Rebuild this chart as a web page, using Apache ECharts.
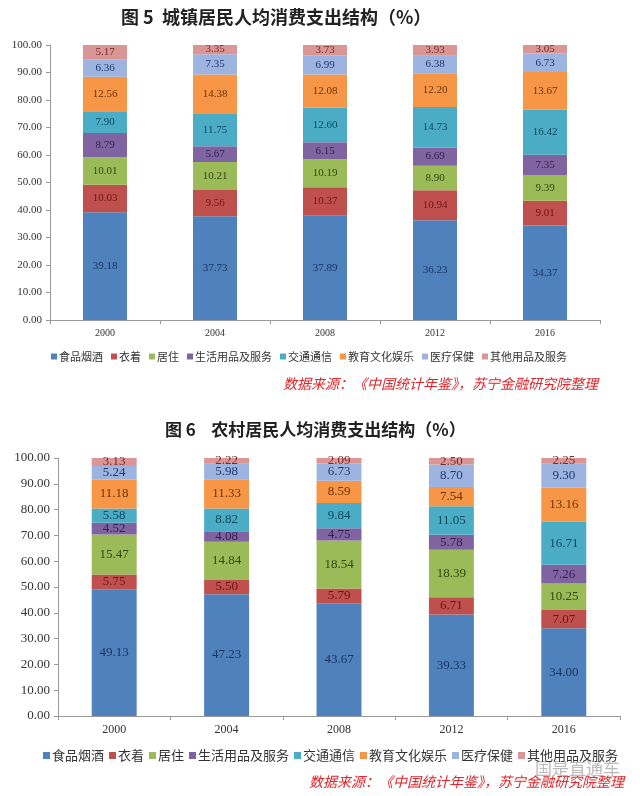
<!DOCTYPE html>
<html><head><meta charset="utf-8">
<script src="https://cdn.jsdelivr.net/npm/echarts@6/dist/echarts.min.js"></script>
<style>html,body{margin:0;padding:0;background:#fff}#c{width:640px;height:796px}</style>
</head><body><div id="c"></div>
<script>
const years = ['2000','2004','2008','2012','2016'];
const seriesNames = ['食品烟酒','衣着','居住','生活用品及服务','交通通信','教育文化娱乐','医疗保健','其他用品及服务'];
// Urban (图5)
const urbanFood = [39.18,37.73,37.89,36.23,34.37];
const urbanClothing = [10.03,9.56,10.37,10.94,9.01];
const urbanHousing = [10.01,10.21,10.19,8.90,9.39];
const urbanHousehold = [8.79,5.67,6.15,6.69,7.35];
const urbanTransport = [7.90,11.75,12.60,14.73,16.42];
const urbanEducation = [12.56,14.38,12.08,12.20,13.67];
const urbanHealth = [6.36,7.35,6.99,6.38,6.73];
const urbanOther = [5.17,3.35,3.73,3.93,3.05];
// Rural (图6)
const ruralFood = [49.13,47.23,43.67,39.33,34.00];
const ruralClothing = [5.75,5.50,5.79,6.71,7.07];
const ruralHousing = [15.47,14.84,18.54,18.39,10.25];
const ruralHousehold = [4.52,4.08,4.75,5.78,7.26];
const ruralTransport = [5.58,8.82,9.84,11.05,16.71];
const ruralEducation = [11.18,11.33,8.59,7.54,13.16];
const ruralHealth = [5.24,5.98,6.73,8.70,9.30];
const ruralOther = [3.13,2.22,2.09,2.50,2.25];
const yTicks = [0,10,20,30,40,50,60,70,80,90,100];

const urban = [urbanFood,urbanClothing,urbanHousing,urbanHousehold,urbanTransport,urbanEducation,urbanHealth,urbanOther];
const rural = [ruralFood,ruralClothing,ruralHousing,ruralHousehold,ruralTransport,ruralEducation,ruralHealth,ruralOther];
const colors = ['#4F81BD','#C0504D','#9BBB59','#8064A2','#4BACC6','#F79646','#9DB4E0','#DA9694'];
const labelColors = ['#1c3461','#6b1614','#34460d','#33224f','#10485e','#6e3208','#1f3870','#7a2a2a'];
const serif = '"Liberation Serif", "DejaVu Serif", serif';
const cjk = '"Noto Sans CJK SC", sans-serif';

function mkSeries(data, idx, fs) {
  return data.map((d,i)=>({
    name: seriesNames[i], type:'bar', stack:'s'+idx, xAxisIndex:idx, yAxisIndex:idx,
    barWidth:'40%', data:d,
    itemStyle:{color:colors[i]},
    label:{show:true, position:'inside', formatter:p=>p.value.toFixed(2),
      color:labelColors[i], fontFamily:serif, fontSize:fs}
  }));
}
function xAx(idx, fs){
  return {type:'category', gridIndex:idx, data:years, boundaryGap:true,
    axisLine:{lineStyle:{color:'#999'}}, axisTick:{show:true, alignWithLabel:false, length:4, lineStyle:{color:'#999'}},
    axisLabel:{color:'#333', fontFamily:serif, fontSize:fs, margin:8}};
}
function yAx(idx, fs){
  return {type:'value', gridIndex:idx, min:yTicks[0], max:yTicks[yTicks.length-1], interval:yTicks[1]-yTicks[0],
    axisLine:{show:true, lineStyle:{color:'#999'}}, axisTick:{show:true, length:4, lineStyle:{color:'#999'}},
    splitLine:{show:false},
    axisLabel:{color:'#333', fontFamily:serif, fontSize:fs, margin:8, formatter:v=>v.toFixed(2)}};
}
const chart = echarts.init(document.getElementById('c'));
chart.setOption({
  animation:false,
  title:[
    {text:'图 5  城镇居民人均消费支出结构（%）', left:116, top:3, textStyle:{fontFamily:cjk, fontSize:18, fontWeight:'bold', color:'#222'}},
    {text:'图 6    农村居民人均消费支出结构（%）', left:160, top:416, textStyle:{fontFamily:cjk, fontSize:17, fontWeight:'bold', color:'#222'}}
  ],
  legend:[
    {data:seriesNames, left:46, top:346, width:600, icon:'rect', itemWidth:6, itemHeight:6, itemGap:8, selectedMode:false,
     textStyle:{fontFamily:cjk, fontSize:11, color:'#333', padding:[0,0,0,-3]}},
    {data:seriesNames, left:38, top:744, width:620, icon:'rect', itemWidth:7, itemHeight:7, itemGap:5, selectedMode:false,
     textStyle:{fontFamily:cjk, fontSize:13, color:'#333', padding:[0,0,0,-3]}}
  ],
  grid:[
    {left:50, right:40, top:45, height:275},
    {left:58, right:20, top:458, height:258}
  ],
  xAxis:[xAx(0,10), xAx(1,12)],
  yAxis:[yAx(0,11), yAx(1,13)],
  series:[...mkSeries(urban,0,11), ...mkSeries(rural,1,13)],
  graphic:[
    {type:'text', right:42, top:377, style:{text:'数据来源：《中国统计年鉴》，苏宁金融研究院整理', fill:'#E0262B', font:'italic 14px "Noto Sans CJK SC"'}},
    {type:'text', right:16, top:775, style:{text:'数据来源：《中国统计年鉴》，苏宁金融研究院整理', fill:'#E0262B', font:'italic 14px "Noto Sans CJK SC"'}},
    {type:'text', right:20, top:760, style:{text:'国是直通车', fill:'#bbbbbb', font:'17px "Noto Sans CJK SC"'}}
  ]
});
</script></body></html>
